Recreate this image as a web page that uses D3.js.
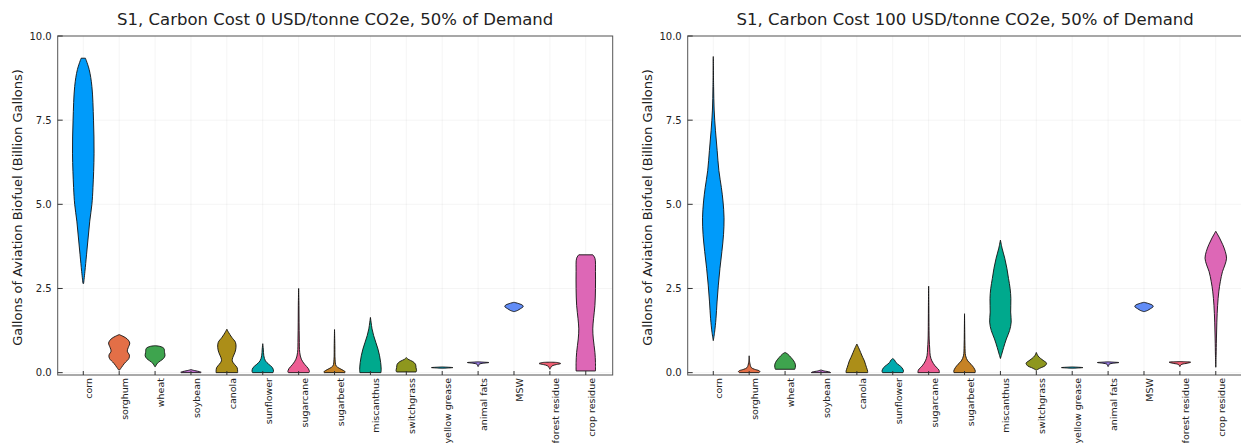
<!DOCTYPE html>
<html>
<head>
<meta charset="utf-8">
<script src="https://cdn.jsdelivr.net/npm/d3@7"></script>
<style>
  body { margin: 0; background: #fff; }
  svg { font-family: "DejaVu Sans", sans-serif; }
</style>
</head>
<body>
<svg id="chart" width="1241" height="443"></svg>
<script>
// categories + ticks
const categories = ['corn', 'sorghum', 'wheat', 'soybean', 'canola', 'sunflower', 'sugarcane',
  'sugarbeet', 'miscanthus', 'switchgrass', 'yellow grease', 'animal fats', 'MSW',
  'forest residue', 'crop residue']
const yTicks = [0, 2.5, 5, 7.5, 10]
const colors = ['#009BFA', '#E36F47', '#3EA44E', '#C371D2', '#AC8E18', '#00AAAE', '#ED5E93',
  '#C68225', '#00A98D', '#8E971E', '#00A9CA', '#9B7FE8', '#618CF6', '#F05F73', '#DD67B6']
const titles = ['S1, Carbon Cost 0 USD/tonne CO2e, 50% of Demand',
  'S1, Carbon Cost 100 USD/tonne CO2e, 50% of Demand']
const yLabel = 'Gallons of Aviation Biofuel (Billion Gallons)'

// violin outlines: [billion gallons, relative width]
const cost0 = [
  [[9.34,0.2],[9.0,0.55],[8.5,0.8],[7.5,0.95],[6.5,1.0],[5.5,0.9],[5.0,0.8],[4.5,0.6],[4.0,0.45],[3.5,0.3],[3.0,0.15],[2.65,0.03]],
  [[1.13,0],[1.08,0.35],[1.0,0.75],[0.88,0.98],[0.75,0.85],[0.64,0.75],[0.52,0.95],[0.42,0.9],[0.28,0.5],[0.15,0.2],[0.08,0.05]],
  [[0.8,0],[0.78,0.45],[0.72,0.82],[0.6,0.88],[0.5,0.92],[0.42,0.78],[0.35,0.5],[0.28,0.22],[0.18,0.03]],
  [[0.09,0],[0.06,0.35],[0.03,0.8],[0.01,0.95],[0,0.9]],
  [[1.29,0],[1.2,0.15],[1.05,0.45],[0.9,0.8],[0.75,0.85],[0.6,0.75],[0.45,0.55],[0.35,0.5],[0.25,0.7],[0.15,0.95],[0.05,1.0],[0,1.0]],
  [[0.86,0],[0.7,0.05],[0.5,0.1],[0.35,0.25],[0.25,0.55],[0.15,0.9],[0.05,1.0],[0,0.95]],
  [[2.5,0],[2.0,0.03],[1.5,0.04],[1.0,0.06],[0.6,0.1],[0.4,0.25],[0.25,0.55],[0.12,0.9],[0.03,1.0],[0,0.95]],
  [[1.28,0],[0.8,0.03],[0.4,0.05],[0.2,0.15],[0.12,0.5],[0.06,0.85],[0.02,1.0],[0,0.95]],
  [[1.64,0],[1.5,0.06],[1.3,0.15],[1.1,0.3],[0.9,0.5],[0.7,0.7],[0.5,0.85],[0.3,0.95],[0.1,1.0],[0,0.98]],
  [[0.45,0],[0.4,0.15],[0.33,0.6],[0.25,0.85],[0.15,0.9],[0.06,0.95],[0.02,0.9]],
  [[0.17,0],[0.16,0.6],[0.15,1.0],[0.14,0.6],[0.13,0]],
  [[0.32,0],[0.31,0.6],[0.3,1.0],[0.28,0.5],[0.25,0.1],[0.21,0.05],[0.18,0]],
  [[2.09,0],[2.05,0.45],[2.0,0.8],[1.96,0.85],[1.9,0.6],[1.85,0.35],[1.81,0]],
  [[0.31,0],[0.3,0.7],[0.27,1.0],[0.24,0.6],[0.2,0.2],[0.15,0.08],[0.1,0]],
  [[3.5,0.65],[3.4,0.85],[3.0,0.9],[2.5,0.9],[2.0,0.85],[1.6,0.72],[1.3,0.65],[1.0,0.7],[0.6,0.85],[0.3,0.9],[0.05,0.9]]
]
const cost100 = [
  [[9.39,0],[8.5,0.03],[7.8,0.08],[7.2,0.2],[6.6,0.36],[6.0,0.52],[5.5,0.75],[5.1,0.9],[4.6,1.0],[4.1,0.95],[3.6,0.8],[3.1,0.62],[2.6,0.47],[2.1,0.35],[1.6,0.25],[1.2,0.12],[0.95,0]],
  [[0.5,0],[0.3,0.05],[0.15,0.2],[0.1,0.5],[0.06,0.9],[0.03,1.0],[0,0.9]],
  [[0.6,0],[0.55,0.25],[0.45,0.55],[0.35,0.8],[0.25,0.95],[0.15,0.95],[0.1,0.9]],
  [[0.08,0],[0.05,0.3],[0.02,0.8],[0,0.9]],
  [[0.85,0],[0.75,0.15],[0.6,0.35],[0.45,0.55],[0.35,0.7],[0.25,0.8],[0.15,0.9],[0.05,1.0],[0,1.0]],
  [[0.42,0],[0.38,0.15],[0.3,0.3],[0.22,0.6],[0.15,0.85],[0.05,1.0],[0,0.95]],
  [[2.57,0],[2.0,0.02],[1.5,0.03],[1.0,0.05],[0.7,0.1],[0.5,0.15],[0.35,0.3],[0.2,0.6],[0.08,0.95],[0,1.0]],
  [[1.75,0],[1.2,0.02],[0.8,0.04],[0.5,0.1],[0.35,0.3],[0.25,0.6],[0.15,0.85],[0.05,1.0],[0,0.98]],
  [[3.94,0],[3.7,0.15],[3.4,0.4],[3.1,0.6],[2.8,0.75],[2.5,0.9],[2.2,0.97],[1.8,0.95],[1.5,1.0],[1.25,0.85],[1.0,0.55],[0.75,0.3],[0.55,0.12],[0.42,0]],
  [[0.6,0],[0.5,0.15],[0.42,0.4],[0.35,0.7],[0.28,0.95],[0.2,0.8],[0.15,0.45],[0.1,0.15],[0.07,0]],
  [[0.17,0],[0.16,0.6],[0.15,1.0],[0.14,0.6],[0.13,0]],
  [[0.32,0],[0.31,0.6],[0.3,1.0],[0.28,0.5],[0.25,0.1],[0.21,0.05],[0.18,0]],
  [[2.09,0],[2.05,0.45],[2.0,0.8],[1.96,0.85],[1.9,0.6],[1.85,0.35],[1.81,0]],
  [[0.33,0],[0.32,0.6],[0.31,1.0],[0.28,0.7],[0.25,0.2],[0.22,0.06],[0.18,0]],
  [[4.2,0],[4.0,0.35],[3.8,0.65],[3.6,0.88],[3.4,1.0],[3.2,0.85],[3.0,0.62],[2.7,0.42],[2.4,0.28],[2.0,0.17],[1.5,0.1],[1.0,0.06],[0.5,0.03],[0.16,0]]
]

const svg = d3.select('#chart')
const plotTop = 36, plotBottom = 375, plotW = 555
const halfW = 0.3   // max half-width of a violin, in category units

function drawPanel(left, title, violins){
  const g = svg.append('g')
  const x = d3.scaleLinear().domain([-0.713, 14.75]).range([left, left + plotW])
  const y = d3.scaleLinear().domain([-0.07, 10]).range([plotBottom, plotTop])

  // grid
  g.selectAll('.vg').data(categories).enter().append('line')
    .attr('x1', (d, i) => x(i)).attr('x2', (d, i) => x(i))
    .attr('y1', plotTop).attr('y2', plotBottom)
    .attr('stroke', '#000').attr('stroke-opacity', 0.08).attr('stroke-width', 0.6)
  g.selectAll('.hg').data(yTicks).enter().append('line')
    .attr('x1', left).attr('x2', left + plotW)
    .attr('y1', d => y(d)).attr('y2', d => y(d))
    .attr('stroke', '#000').attr('stroke-opacity', 0.08).attr('stroke-width', 0.6)

  // violins
  violins.forEach((pts, i) => {
    const area = d3.area()
      .y(d => y(d[0]))
      .x0(d => x(i - d[1] * halfW))
      .x1(d => x(i + d[1] * halfW))
      .curve(d3.curveCatmullRom.alpha(0.5))
    g.append('path')
      .attr('d', area(pts))
      .attr('fill', colors[i])
      .attr('stroke', '#111')
      .attr('stroke-width', 0.9)
      .attr('stroke-linejoin', 'round')
  })

  // frame
  g.append('rect')
    .attr('x', left).attr('y', plotTop).attr('width', plotW).attr('height', plotBottom - plotTop)
    .attr('fill', 'none').attr('stroke', '#555').attr('stroke-width', 1)

  // ticks (inside)
  g.selectAll('.xt').data(categories).enter().append('line')
    .attr('x1', (d, i) => x(i)).attr('x2', (d, i) => x(i))
    .attr('y1', plotBottom).attr('y2', plotBottom - 4)
    .attr('stroke', '#333')
  g.selectAll('.yt').data(yTicks).enter().append('line')
    .attr('x1', left).attr('x2', left + 5)
    .attr('y1', d => y(d)).attr('y2', d => y(d))
    .attr('stroke', '#333')

  // tick labels
  g.selectAll('.yl').data(yTicks).enter().append('text')
    .attr('x', left - 6).attr('y', d => y(d))
    .attr('text-anchor', 'end').attr('dominant-baseline', 'central')
    .attr('font-size', 10).attr('fill', '#222')
    .text(d => d.toFixed(1))
  g.selectAll('.xl').data(categories).enter().append('text')
    .attr('transform', (d, i) => `translate(${x(i) + 5.5},${plotBottom + 3}) rotate(-90)`)
    .attr('text-anchor', 'end').attr('dominant-baseline', 'central')
    .attr('font-size', 9.5).attr('fill', '#222')
    .text(d => d)

  // axis title
  g.append('text')
    .attr('transform', `translate(${left - 40},${(plotTop + plotBottom) / 2 + 2}) rotate(-90)`)
    .attr('text-anchor', 'middle').attr('dominant-baseline', 'central')
    .attr('font-size', 13).attr('fill', '#222')
    .text(yLabel)

  g.append('text')
    .attr('x', left + plotW / 2).attr('y', 25)
    .attr('text-anchor', 'middle')
    .attr('font-size', 16.5).attr('fill', '#222')
    .text(title)
}

drawPanel(57.7, titles[0], cost0)
drawPanel(687.7, titles[1], cost100)
</script>
</body>
</html>
